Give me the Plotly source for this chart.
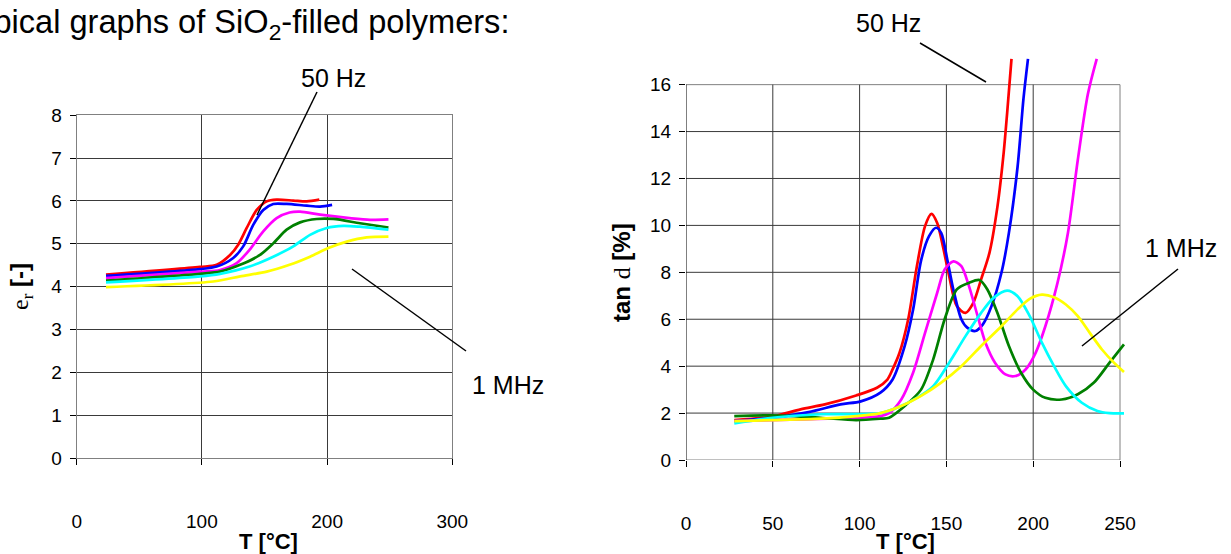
import plotly.graph_objects as go

W, H = 1231, 554

# ---------------- data: left chart (relative permittivity) ----------------
er_red_x = [23.4, 98.5, 111.8, 122.5, 129, 135.8, 143.8, 151.8, 159.7, 173, 183.7, 193.8]
er_red_y = [4.28, 4.46, 4.51, 4.74, 4.98, 5.37, 5.79, 5.99, 6.03, 6.01, 5.99, 6.03]
er_blue_x = [23.4, 98.5, 111.8, 125, 133, 141, 149, 157, 167.7, 183.7, 194.4, 204]
er_blue_y = [4.25, 4.41, 4.47, 4.67, 4.94, 5.44, 5.79, 5.93, 5.93, 5.89, 5.87, 5.91]
er_mag_x = [23.4, 98.5, 114.5, 127.8, 138, 149, 159.7, 170, 178.4, 194.4, 218, 234.3, 249]
er_mag_y = [4.20, 4.35, 4.39, 4.55, 4.86, 5.29, 5.60, 5.73, 5.75, 5.68, 5.60, 5.56, 5.57]
er_green_x = [23.4, 98.5, 114.5, 130.5, 146.4, 157, 167.7, 178.4, 191.7, 205, 226.3, 249]
er_green_y = [4.14, 4.30, 4.35, 4.51, 4.74, 5.01, 5.33, 5.50, 5.58, 5.58, 5.48, 5.38]
er_cyan_x = [23.4, 98.5, 114.5, 138, 157, 173, 186.4, 199.7, 213, 226.3, 249]
er_cyan_y = [4.10, 4.24, 4.30, 4.47, 4.70, 4.94, 5.21, 5.37, 5.42, 5.40, 5.33]
er_yel_x = [23.4, 109, 130.5, 151.8, 170, 186.4, 201, 215.7, 231.6, 249]
er_yel_y = [3.99, 4.12, 4.24, 4.35, 4.51, 4.70, 4.90, 5.05, 5.15, 5.17]

# ---------------- data: right chart (loss factor) ----------------
td_red_x = [27.8, 49.8, 66, 80, 98, 110, 116, 119, 123, 128, 133, 137.7, 141.4, 144.7,
            148, 151.6, 156, 161, 165.5, 170, 174.8, 179.4, 183, 185, 187.5]
td_red_y = [1.70, 1.85, 2.16, 2.37, 2.75, 3.08, 3.43, 3.86, 4.57, 6.0, 8.26, 9.97, 10.49,
            10.1, 9.1, 7.84, 6.56, 6.27, 6.7, 7.7, 8.83, 10.8, 13.1, 14.8, 17.1]
td_blue_x = [27.8, 49.8, 70.6, 89, 100.7, 112, 119, 126, 130.8, 135.4, 140, 144, 147,
             150.5, 154, 158.6, 162, 166.7, 171, 176, 181.7, 186, 191, 194.4, 197]
td_blue_y = [1.66, 1.80, 2.04, 2.37, 2.50, 2.87, 3.43, 4.86, 6.4, 8.5, 9.54, 9.9, 9.68,
             8.55, 7.27, 6.0, 5.64, 5.5, 5.78, 6.56, 7.98, 9.68, 12.5, 15.4, 17.1]
td_mag_x = [27.8, 60, 90, 112, 117, 124, 130.8, 137.7, 144.7, 149, 154, 158.6, 163, 168,
            172.5, 178, 184, 189.8, 195.6, 201.4, 207, 214, 220, 225.7, 231.5, 236.6]
td_mag_y = [1.66, 1.72, 1.78, 1.87, 2.0, 2.58, 3.72, 5.42, 7.13, 8.12, 8.47, 8.26, 7.41,
            6.13, 5.0, 4.15, 3.65, 3.58, 3.86, 4.57, 5.7, 7.55, 9.68, 12.8, 15.6, 17.1]
td_green_x = [27.8, 49.8, 77.5, 98, 112, 117, 126, 135.4, 142.4, 149, 156, 163, 169,
              173.6, 179.4, 186, 193, 200, 207, 216.4, 225.7, 235, 244, 252.3]
td_green_y = [1.87, 1.90, 1.80, 1.70, 1.76, 1.80, 2.3, 3.0, 4.29, 6.0, 7.27, 7.55, 7.67,
              7.27, 6.27, 4.86, 3.72, 3.0, 2.65, 2.58, 2.8, 3.3, 4.15, 4.93]
td_cyan_x = [27.8, 49.8, 77.5, 112, 121.5, 133, 142.4, 151.6, 161, 170, 177, 185, 191,
             198, 205, 212, 218.8, 228, 237, 244, 252.3]
td_cyan_y = [1.56, 1.80, 1.95, 2.0, 2.23, 2.65, 3.15, 4.15, 5.28, 6.27, 6.9, 7.22, 6.98,
             6.13, 5.0, 4.0, 3.15, 2.44, 2.09, 2.0, 1.99]
td_yel_x = [27.8, 49.8, 77.5, 98, 112, 124, 135.4, 147, 158.6, 170, 181.7, 191, 198, 205,
            212, 218.8, 225.7, 232.6, 239.6, 246.5, 252.3]
td_yel_y = [1.66, 1.70, 1.76, 1.87, 2.0, 2.3, 2.73, 3.3, 4.0, 4.86, 5.7, 6.42, 6.87, 7.05,
            6.94, 6.63, 6.13, 5.42, 4.71, 4.15, 3.75]

colors = ["#FF0000", "#0000FF", "#FF00FF", "#008000", "#00FFFF", "#FFFF00"]

left_series = [(er_red_x, er_red_y), (er_blue_x, er_blue_y), (er_mag_x, er_mag_y),
               (er_green_x, er_green_y), (er_cyan_x, er_cyan_y), (er_yel_x, er_yel_y)]
right_series = [(td_red_x, td_red_y), (td_blue_x, td_blue_y), (td_mag_x, td_mag_y),
                (td_green_x, td_green_y), (td_cyan_x, td_cyan_y), (td_yel_x, td_yel_y)]

left_xticks = [0, 100, 200, 300]
left_yticks = [0, 1, 2, 3, 4, 5, 6, 7, 8]
right_xticks = [0, 50, 100, 150, 200, 250]
right_yticks = [0, 2, 4, 6, 8, 10, 12, 14, 16]

FONT = "Arial, Liberation Sans, sans-serif"
SERIF = "Times New Roman, Liberation Serif, serif"


def px(x):
    return x / W


def py(y):
    return 1 - y / H


fig = go.Figure()

for (xs, ys), c in zip(left_series, colors):
    fig.add_trace(go.Scatter(x=xs, y=ys, mode="lines", xaxis="x", yaxis="y",
                             line=dict(color=c, width=2.7, shape="spline", smoothing=0.8),
                             showlegend=False, hoverinfo="skip"))
for (xs, ys), c in zip(right_series, colors):
    fig.add_trace(go.Scatter(x=xs, y=ys, mode="lines", xaxis="x2", yaxis="y2",
                             line=dict(color=c, width=2.7, shape="spline", smoothing=0.8),
                             showlegend=False, hoverinfo="skip"))

GRID = "#3a3a3a"
BORDER = "#808080"

shapes = []
# right chart grid limited to 0..250 / 0..16 (curves may leave the frame)
for yv in right_yticks:
    shapes.append(dict(type="line", xref="x2", yref="y2", x0=0, x1=right_xticks[-1],
                       y0=yv, y1=yv, layer="below",
                       line=dict(color=BORDER if yv in (0, right_yticks[-1]) else GRID, width=1)))
for xv in right_xticks:
    shapes.append(dict(type="line", xref="x2", yref="y2", x0=xv, x1=xv,
                       y0=0, y1=right_yticks[-1], layer="below",
                       line=dict(color="#000000" if xv == 0 else (BORDER if xv == right_xticks[-1] else GRID),
                                 width=1)))

# leader lines
leaders = [((317, 92), (257, 215)),
           ((352, 269), (466, 351)),
           ((920, 43), (986, 82)),
           ((1178, 269), (1082, 346))]
for (x0, y0), (x1, y1) in leaders:
    shapes.append(dict(type="line", xref="paper", yref="paper",
                       x0=px(x0), y0=py(y0), x1=px(x1), y1=py(y1),
                       line=dict(color="#000000", width=1.5)))

annotations = [
    dict(text="Typical graphs of SiO<sub>2</sub>-filled polymers:", x=px(511), y=py(24),
         xanchor="right", yanchor="middle", font=dict(size=32.6, color="#000")),
    dict(text="50 Hz", x=px(333), y=py(78), xanchor="center", yanchor="middle",
         font=dict(size=25, color="#000")),
    dict(text="1 MHz", x=px(508), y=py(385), xanchor="center", yanchor="middle",
         font=dict(size=25, color="#000")),
    dict(text="50 Hz", x=px(888), y=py(23), xanchor="center", yanchor="middle",
         font=dict(size=25, color="#000")),
    dict(text="1 MHz", x=px(1181), y=py(248), xanchor="center", yanchor="middle",
         font=dict(size=25, color="#000")),
    dict(text="<b>T [°C]</b>", x=px(268), y=py(541), xanchor="center", yanchor="middle",
         font=dict(size=22, color="#000")),
    dict(text="<b>T [°C]</b>", x=px(905), y=py(541), xanchor="center", yanchor="middle",
         font=dict(size=22, color="#000")),
    dict(text=f"<span style='font-family:{SERIF}'>e<sub>r</sub></span> <b>[-]</b>",
         x=px(21), y=py(287), xanchor="center", yanchor="middle", textangle=-90,
         font=dict(size=24, color="#000")),
    dict(text=f"<b>tan</b> <span style='font-family:{SERIF}'>d</span> <b>[%]</b>",
         x=px(621), y=py(273), xanchor="center", yanchor="middle", textangle=-90,
         font=dict(size=24, color="#000")),
]
for a in annotations:
    a.update(xref="paper", yref="paper", showarrow=False)

tickfont = dict(family=FONT, size=19, color="#000")

fig.update_layout(
    width=W, height=H,
    margin=dict(l=0, r=0, t=0, b=0, autoexpand=False),
    paper_bgcolor="white", plot_bgcolor="white",
    font=dict(family=FONT, color="#000"),
    showlegend=False,
    xaxis=dict(domain=[px(76.7), px(452.3)], range=[0, 300], tickvals=left_xticks,
               showgrid=True, gridcolor=GRID, gridwidth=1, zeroline=False,
               showline=True, linecolor=BORDER, mirror=True, linewidth=1,
               ticks="outside", ticklen=6, tickcolor="#000", tickfont=tickfont,
               ticklabelstandoff=40, anchor="y", fixedrange=True, automargin=False),
    yaxis=dict(domain=[py(458), py(115.3)], range=[0, 8], tickvals=left_yticks,
               showgrid=True, gridcolor=GRID, gridwidth=1, zeroline=False,
               showline=True, linecolor=BORDER, mirror=True, linewidth=1,
               ticks="outside", ticklen=6, tickcolor="#000", tickfont=tickfont,
               ticklabelstandoff=4, anchor="x", fixedrange=True, automargin=False),
    xaxis2=dict(domain=[px(686), px(686 + 253 * 1.736)], range=[0, 253], tickvals=right_xticks,
                showgrid=False, zeroline=False, showline=False,
                ticks="outside", ticklen=6, tickcolor="#000", tickfont=tickfont,
                ticklabelstandoff=40, anchor="y2", fixedrange=True, automargin=False),
    yaxis2=dict(domain=[py(460), py(460 - 17.3 * 23.46)], range=[0, 17.3], tickvals=right_yticks,
                showgrid=False, zeroline=False, showline=False,
                ticks="outside", ticklen=6, tickcolor="#000", tickfont=tickfont,
                ticklabelstandoff=4, anchor="x2", fixedrange=True, automargin=False),
    shapes=shapes,
    annotations=annotations,
)

fig.write_html("out.html", config={"displayModeBar": False},
               post_script="document.body.style.margin='0px';document.body.style.overflow='hidden';")
